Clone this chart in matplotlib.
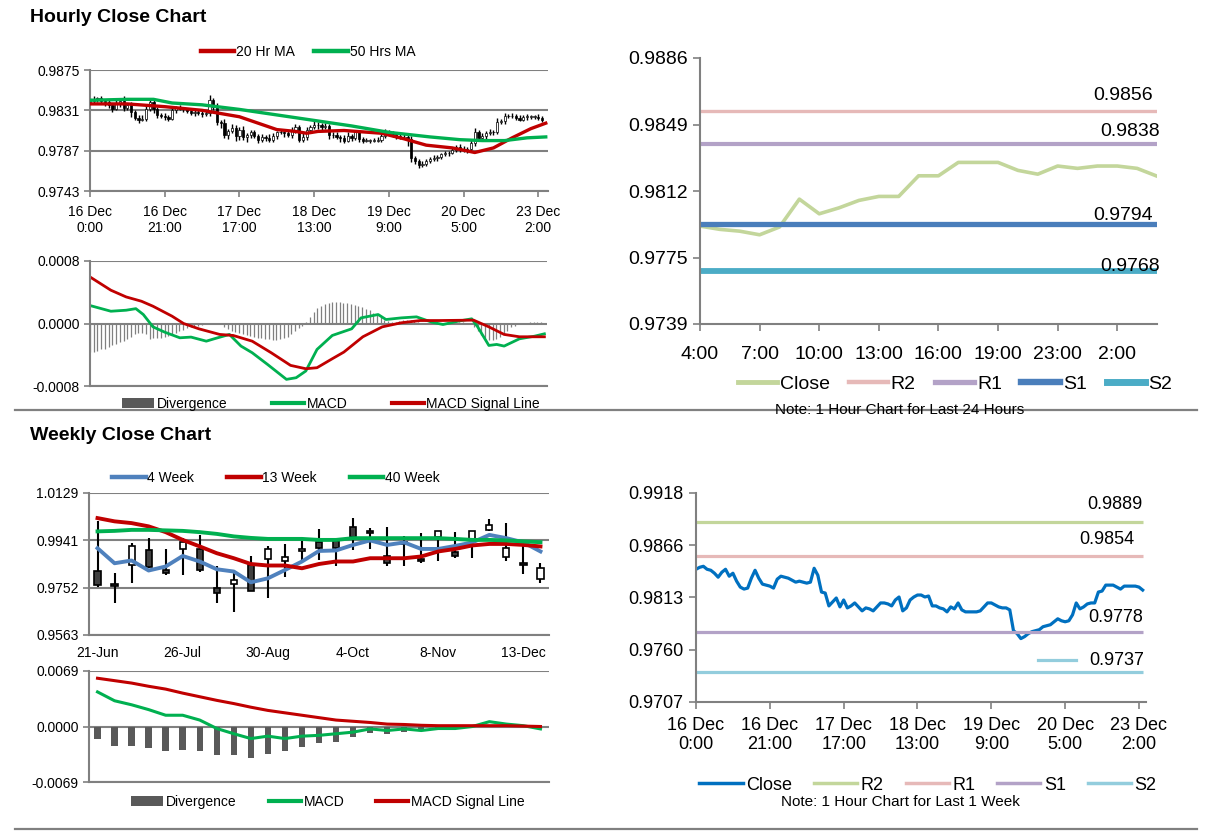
import numpy as np
import matplotlib
matplotlib.use("Agg")
import matplotlib.pyplot as plt
from matplotlib import font_manager
from matplotlib.lines import Line2D
from matplotlib.patches import Patch


# FONTS
installed = {f.name for f in font_manager.fontManager.ttflist}
BASE = "Liberation Sans" if "Liberation Sans" in installed else "DejaVu Sans"
NARROW = "Liberation Sans Narrow" if "Liberation Sans Narrow" in installed else BASE
plt.rcParams["font.family"] = [BASE, "DejaVu Sans"]
# the narrow face is smaller per point, so only bump the size when it exists
C_SIZE = 15.5 if NARROW != BASE else 14

GREY = "#808080"
RED = "#c00000"
GREEN = "#00b050"


# HOURLY DATA (last 1 week, one value per hour)
hourly_close = [
    0.9841, 0.9843, 0.9844, 0.9841, 0.9840, 0.9837, 0.9833, 0.9838, 0.9841, 0.9834,
    0.9837, 0.9829, 0.9823, 0.9821, 0.9822, 0.9832, 0.9840, 0.9832, 0.9826, 0.9825,
    0.9824, 0.9822, 0.9831, 0.9834, 0.9833, 0.9832, 0.9830, 0.9828, 0.9829, 0.9828,
    0.9827, 0.9828, 0.9842, 0.9835, 0.9818, 0.9817, 0.9804, 0.9808, 0.9812, 0.9803,
    0.9810, 0.9802, 0.9804, 0.9807, 0.9803, 0.9799, 0.9802, 0.9801, 0.9799, 0.9803,
    0.9807, 0.9807, 0.9806, 0.9804, 0.9810, 0.9813, 0.9799, 0.9802, 0.9810, 0.9813,
    0.9815, 0.9815, 0.9813, 0.9814, 0.9804, 0.9804, 0.9802, 0.9801, 0.9798, 0.9803,
    0.9801, 0.9807, 0.9800, 0.9798, 0.9798, 0.9798, 0.9798, 0.9799, 0.9803, 0.9807,
    0.9807, 0.9805, 0.9803, 0.9802, 0.9802, 0.9800, 0.9779, 0.9776, 0.9771, 0.9773,
    0.9776, 0.9778, 0.9779, 0.9780, 0.9783, 0.9784, 0.9785, 0.9788, 0.9791, 0.9789,
    0.9788, 0.9789, 0.9795, 0.9807, 0.9801, 0.9803, 0.9806, 0.9807, 0.9807, 0.9818,
    0.9819, 0.9825, 0.9825, 0.9825, 0.9823, 0.9821, 0.9824, 0.9824, 0.9824, 0.9824,
    0.9823, 0.9820,
]
hourly_first_open = 0.9840

# wick lengths above / below the candle body, in pips (0.0001)
hourly_hi_wick = [
    3, 4, 2, 3, 2, 3, 2, 5, 3, 6, 2, 3, 2, 3, 4, 5, 3, 2, 3, 2,
    3, 2, 4, 2, 3, 2, 2, 3, 2, 3, 2, 3, 6, 3, 4, 2, 5, 3, 4, 3,
    3, 4, 2, 3, 3, 2, 3, 2, 4, 3, 2, 3, 2, 4, 3, 3, 2, 4, 3, 2,
    4, 3, 2, 3, 2, 3, 3, 2, 3, 4, 2, 3, 2, 2, 3, 2, 3, 3, 2, 4,
    3, 2, 2, 3, 3, 2, 3, 2, 2, 3, 2, 2, 3, 2, 2, 3, 2, 3, 2, 3,
    3, 2, 4, 5, 3, 3, 2, 4, 3, 5, 3, 3, 2, 3, 2, 3, 2, 3, 2, 2,
    3, 2,
]
hourly_lo_wick = [
    2, 3, 3, 2, 4, 3, 4, 2, 3, 4, 3, 5, 3, 4, 2, 3, 2, 4, 3, 2,
    4, 3, 2, 3, 2, 3, 2, 2, 3, 2, 3, 2, 3, 4, 3, 5, 3, 4, 2, 5,
    4, 3, 5, 3, 2, 4, 3, 3, 2, 3, 3, 2, 4, 2, 3, 4, 3, 2, 3, 3,
    2, 4, 3, 2, 4, 3, 2, 4, 3, 2, 3, 2, 4, 3, 2, 3, 2, 2, 3, 2,
    2, 3, 3, 2, 2, 8, 4, 3, 3, 2, 3, 2, 2, 3, 2, 2, 3, 2, 2, 3,
    2, 3, 2, 3, 3, 2, 3, 2, 3, 2, 2, 3, 2, 2, 3, 2, 2, 3, 2, 2,
    3, 2,
]

hourly_tick_pos = [0, 20, 40, 60, 80, 100, 120]
hourly_tick_labels = ["16 Dec\n0:00", "16 Dec\n21:00", "17 Dec\n17:00", "18 Dec\n13:00",
                      "19 Dec\n9:00", "20 Dec\n5:00", "23 Dec\n2:00"]

# moving averages (hour index, value)
ma20_x = [0, 10, 20, 30, 40, 45, 50, 55, 58, 61, 68, 78, 84, 90, 97, 103, 108, 113, 118, 122]
ma20_y = [0.9838, 0.9838, 0.9835, 0.9831, 0.9824, 0.9817, 0.9810, 0.9808, 0.9806, 0.9808,
          0.9809, 0.9806, 0.9800, 0.9793, 0.9790, 0.9785, 0.9790, 0.9801, 0.9811, 0.9817]
ma50_x = [0, 10, 17, 22, 30, 40, 50, 60, 70, 80, 91, 99, 105, 111, 117, 122]
ma50_y = [0.9842, 0.9843, 0.9843, 0.9839, 0.9837, 0.9832, 0.9826, 0.9820, 0.9814, 0.9807,
          0.9802, 0.9799, 0.9798, 0.9798, 0.9801, 0.9802]

# hourly MACD, values in units of 0.0001
macd_x = [0, 5.6, 9.7, 12.3, 14.3, 16.9, 20, 24.1, 27.1, 31.2, 33.3, 37.4, 40.5, 43.5, 47.6,
          52.7, 55.3, 57.9, 60.9, 65, 70.2, 72.7, 77.3, 79.4, 83.5, 87.6, 91.7, 94.7, 98.8,
          102.4, 104, 107, 109.1, 111.1, 115.2, 119.3, 121.9]
macd_y = [2.30, 1.57, 1.70, 1.90, 1.15, -0.43, -1.10, -1.83, -1.74, -2.26, -1.96, -1.40, -2.89,
          -3.74, -5.23, -7.15, -6.94, -6.08, -3.32, -1.53, -0.68, 0.72, 1.15, 0.51, 0.72, 0.85,
          0.17, -0.13, 0.30, 0.60, -0.43, -2.81, -2.68, -2.89, -1.96, -1.62, -1.32]
signal_x = [0, 5.6, 9.7, 13.8, 16.9, 22, 25.1, 29.2, 34.8, 38.4, 43.5, 48.6, 53.8, 57.9, 60.9,
            65, 68.1, 73.2, 78.4, 83.5, 88.6, 93.7, 102.9, 107, 111.1, 115.2, 121.9]
signal_y = [5.96, 4.26, 3.40, 2.85, 2.21, 0.94, 0.0, -0.68, -1.40, -1.53, -2.26, -3.74, -5.36,
            -5.79, -5.66, -4.51, -3.66, -1.70, -0.43, 0.09, 0.38, 0.38, 0.43, -0.43, -1.40,
            -1.70, -1.70]
# divergence per hour, units of 0.00001
divergence = [
    -37, -36, -35, -33, -32, -30, -28, -26, -24, -22, -20, -17, -14, -12, -12, -14, -20, -19,
    -19, -18, -17, -16, -14, -12, -10, -8, -6, -5, -4, -3, -2, -1, 0, 1, 1, -1, -4, -7, -9,
    -11, -12, -14, -15, -16, -17, -18, -19, -20, -20, -21, -21, -20, -19, -17, -14, -10, -6,
    -3, 2, 8, 15, 20, 23, 25, 26, 27, 27, 27, 26, 26, 25, 24, 23, 21, 19, 17, 14, 11, 8, 5,
    3, 2, 2, 3, 4, 4, 4, 3, 2, 1, 0, -1, 0, 0, 1, 1, 2, 2, 3, 2, 2, 1, -1, -5, -10, -15, -19,
    -21, -21, -20, -17, -13, -9, -5, -3, -1, 1, 1, 2, 2, 2, 2,
]


# LAST 24 HOURS
last24_labels = ["4:00", "5:00", "6:00", "7:00", "8:00", "9:00", "10:00", "11:00", "12:00",
                 "13:00", "14:00", "15:00", "16:00", "17:00", "18:00", "19:00", "20:00",
                 "21:00", "23:00", "0:00", "1:00", "2:00", "3:00", "4:00"]
last24_close = [0.97926, 0.97908, 0.97898, 0.97878, 0.97921, 0.98075, 0.97994, 0.98027,
                0.98068, 0.98090, 0.98090, 0.98204, 0.98204, 0.98278, 0.98278, 0.98278,
                0.98234, 0.98213, 0.98258, 0.98245, 0.98258, 0.98258, 0.98245, 0.98202]
day_levels = {"R2": 0.9856, "R1": 0.9838, "S1": 0.9794, "S2": 0.9768}
week_levels = {"R2": 0.9889, "R1": 0.9854, "S1": 0.9778, "S2": 0.9737}


# WEEKLY DATA
week_labels = ["21-Jun", "26-Jul", "30-Aug", "4-Oct", "8-Nov", "13-Dec"]
wk_open = [0.9820, 0.9766, 0.9842, 0.9900, 0.9822, 0.9905, 0.9905, 0.9749, 0.9765, 0.9842,
           0.9865, 0.9856, 0.9896, 0.9932, 0.9936, 0.9992, 0.9978, 0.9878, 0.9932, 0.9865,
           0.9953, 0.9892, 0.9945, 0.9982, 0.9872, 0.9849, 0.9785]
wk_high = [1.0016, 0.9809, 0.9929, 0.9949, 0.9905, 0.9949, 0.9962, 0.9839, 0.9809, 0.9878,
           0.9918, 0.9926, 0.9936, 0.9985, 0.9949, 1.0029, 0.9989, 0.9992, 0.9956, 0.9969,
           0.9976, 0.9972, 0.9976, 1.0025, 1.0009, 0.9916, 0.9849]
wk_low = [0.9756, 0.9692, 0.9769, 0.9829, 0.9802, 0.9802, 0.9816, 0.9692, 0.9656, 0.9738,
          0.9709, 0.9796, 0.9856, 0.9860, 0.9840, 0.9902, 0.9905, 0.9840, 0.9840, 0.9849,
          0.9856, 0.9869, 0.9869, 0.9976, 0.9856, 0.9806, 0.9769]
wk_close = [0.9762, 0.9760, 0.9916, 0.9836, 0.9809, 0.9932, 0.9822, 0.9729, 0.9782, 0.9738,
            0.9905, 0.9873, 0.9905, 0.9909, 0.9909, 0.9953, 0.9969, 0.9849, 0.9926, 0.9856,
            0.9976, 0.9876, 0.9976, 1.0002, 0.9909, 0.9842, 0.9829]
wk_ma4 = [0.9909, 0.9849, 0.9860, 0.9820, 0.9836, 0.9878, 0.9856, 0.9825, 0.9816, 0.9773,
          0.9789, 0.9822, 0.9856, 0.9898, 0.9900, 0.9922, 0.9940, 0.9922, 0.9932, 0.9906,
          0.9906, 0.9918, 0.9932, 0.9962, 0.9949, 0.9932, 0.9896]
wk_ma13 = [1.0029, 1.0016, 1.0009, 0.9996, 0.9973, 0.9942, 0.9916, 0.9889, 0.9869, 0.9846,
           0.9840, 0.9840, 0.9829, 0.9846, 0.9856, 0.9856, 0.9869, 0.9869, 0.9869, 0.9876,
           0.9896, 0.9906, 0.9920, 0.9926, 0.9926, 0.9922, 0.9916]
wk_ma40 = [0.9976, 0.9978, 0.9982, 0.9982, 0.9980, 0.9978, 0.9973, 0.9966, 0.9956, 0.9950,
           0.9946, 0.9946, 0.9946, 0.9942, 0.9942, 0.9949, 0.9949, 0.9949, 0.9949, 0.9949,
           0.9949, 0.9946, 0.9942, 0.9942, 0.9940, 0.9936, 0.9933]
wk_div = [-0.00155, -0.00245, -0.00245, -0.0027, -0.0031, -0.0029, -0.0031, -0.0035, -0.0036,
          -0.0039, -0.0034, -0.0031, -0.0026, -0.0021, -0.0019, -0.0013, -0.0008, -0.0009,
          -0.00065, -0.00045, -0.00025, -0.00016, -0.0001, 0.0001, 0.00005, -0.00005, -0.0001]
wk_macd = [0.0043, 0.0032, 0.0027, 0.0021, 0.0014, 0.0014, 0.0008, -0.00025, -0.0009, -0.0015,
           -0.0012, -0.0015, -0.0012, -0.0011, -0.0009, -0.0007, -0.0003, -0.0005, -0.0003,
           -0.0005, -0.00025, -0.00025, 0.0, 0.0006, 0.0003, 0.0001, -0.0003]
wk_signal = [0.0060, 0.0057, 0.0054, 0.0050, 0.00465, 0.00415, 0.0037, 0.00325, 0.00285,
             0.0024, 0.0020, 0.0017, 0.0014, 0.0011, 0.0008, 0.00065, 0.0005, 0.0003,
             0.00025, 0.00015, 0.0001, 0.0001, 0.0001, 0.0001, 0.0001, 0.00005, 0.0]


# FIGURE
W, H = 1212, 834
fig = plt.figure(figsize=(W / 100, H / 100), dpi=100)


def box(left, top, right, bottom):
    return [left / W, 1 - bottom / H, (right - left) / W, (bottom - top) / H]


def base_style(ax):
    ax.spines["top"].set_visible(False)
    ax.spines["right"].set_visible(False)
    for side in ("left", "bottom"):
        ax.spines[side].set_color(GREY)
        ax.spines[side].set_linewidth(1.5)
    ax.tick_params(color=GREY, width=1.2, length=4, direction="out", labelcolor="black")


def fig_legend(handles, labels, x, y, size, family=None, **kw):
    prop = {"size": size}
    if family:
        prop["family"] = family
    fig.legend(handles, labels, loc="center", bbox_to_anchor=(x / W, 1 - y / H),
               ncol=len(labels), frameon=False, prop=prop, borderaxespad=0, **kw)


fig.text(30 / W, 1 - 18 / H, "Hourly Close Chart", fontsize=14, fontweight="bold", va="center")
fig.text(30 / W, 1 - 436 / H, "Weekly Close Chart", fontsize=14, fontweight="bold", va="center")
for ypx in (410, 829):
    fig.add_artist(Line2D([15 / W, 1197 / W], [1 - ypx / H, 1 - ypx / H],
                          transform=fig.transFigure, color=GREY, lw=1.6))


# PANEL A: HOURLY CANDLES
axA = fig.add_axes(box(90, 70, 548, 191))
base_style(axA)
close = np.array(hourly_close)
opens = np.concatenate([[hourly_first_open], close[:-1]])
hi = np.maximum(opens, close) + np.array(hourly_hi_wick) * 1e-4
lo = np.minimum(opens, close) - np.array(hourly_lo_wick) * 1e-4
idx = np.arange(len(close))
axA.vlines(idx, lo, hi, color="black", lw=1.0, zorder=2)
body_bot = np.minimum(opens, close)
body_h = np.maximum(np.abs(close - opens), 0.00003)
up = close >= opens
axA.bar(idx[up], body_h[up], bottom=body_bot[up], width=0.6, color="white",
        edgecolor="black", lw=0.5, zorder=3)
axA.bar(idx[~up], body_h[~up], bottom=body_bot[~up], width=0.6, color="black",
        edgecolor="black", lw=0.5, zorder=3)
axA.plot(ma20_x, ma20_y, color=RED, lw=2.4, zorder=4)
axA.plot(ma50_x, ma50_y, color=GREEN, lw=2.4, zorder=5)
axA.set_xlim(0, 122.6)
axA.set_ylim(0.9743, 0.9875)
a_ticks = [0.9743, 0.9787, 0.9831, 0.9875]
axA.set_yticks(a_ticks)
axA.set_yticklabels([f"{v:.4f}" for v in a_ticks], fontsize=10)
axA.yaxis.grid(True, color=GREY, lw=1.5)
axA.set_axisbelow(True)
axA.set_xticks(hourly_tick_pos)
axA.set_xticklabels(hourly_tick_labels, fontsize=10, linespacing=1.15)
axA.tick_params(axis="x", pad=6)
fig_legend([Line2D([], [], color=RED, lw=3.2), Line2D([], [], color=GREEN, lw=3.2)],
           ["20 Hr MA", "50 Hrs MA"], 308, 52, 10,
           handlelength=2.4, handletextpad=0.15, columnspacing=1.4)


# PANEL B: HOURLY MACD
axB = fig.add_axes(box(90, 261, 547, 386))
base_style(axB)
axB.vlines(idx, 0, np.array(divergence) * 1e-5, color="#808080", lw=0.9)
axB.plot(macd_x, np.array(macd_y) * 1e-4, color=GREEN, lw=2.0)
axB.plot(signal_x, np.array(signal_y) * 1e-4, color=RED, lw=2.0)
axB.set_xlim(0, 122.6)
axB.set_ylim(-0.0008, 0.0008)
b_ticks = [-0.0008, 0.0, 0.0008]
axB.set_yticks(b_ticks)
axB.set_yticklabels(["-0.0008", "0.0000", "0.0008"], fontsize=10)
axB.yaxis.grid(True, color=GREY, lw=1.5)
axB.set_axisbelow(True)
axB.set_xticks([])
fig_legend([Patch(facecolor="#595959"), Line2D([], [], color=GREEN, lw=3),
            Line2D([], [], color=RED, lw=3)],
           ["Divergence", "MACD", "MACD Signal Line"], 331, 404, 10,
           handlelength=2.3, handletextpad=0.2, columnspacing=3.2)


# PANEL C: LAST 24 HOURS WITH PIVOTS
axC = fig.add_axes(box(700, 58, 1157, 324))
base_style(axC)
n24 = len(last24_close)
axC.plot(range(n24), last24_close, color="#c3d69b", lw=2.6)
c_colors = {"R2": "#e6b9b8", "R1": "#b3a2c7", "S1": "#4a7ebb", "S2": "#4bacc6"}
c_widths = {"R2": 2.4, "R1": 3.0, "S1": 3.8, "S2": 4.2}
c_offsets = {"R2": (-3, 5), "R1": (2, 3), "S1": (-3, 0), "S2": (2, -3)}
for name, lvl in day_levels.items():
    axC.hlines(lvl, 0, n24 - 1, color=c_colors[name], lw=c_widths[name])
    axC.annotate(f"{lvl:.4f}", (n24 - 1, lvl), xytext=c_offsets[name],
                 textcoords="offset points", ha="right", va="bottom",
                 fontsize=C_SIZE, family=NARROW)
axC.set_xlim(0, n24 - 1)
axC.set_ylim(0.97385, 0.98855)
c_labels = ["0.9739", "0.9775", "0.9812", "0.9849", "0.9886"]
axC.set_yticks(np.linspace(0.97385, 0.98855, len(c_labels)))
axC.set_yticklabels(c_labels, fontsize=C_SIZE, family=NARROW)
axC.set_xticks(range(0, n24 - 1, 3))
axC.set_xticklabels(last24_labels[0:n24 - 1:3], fontsize=C_SIZE, family=NARROW)
axC.tick_params(length=5, pad=4)
axC.tick_params(axis="x", pad=11)
fig_legend([Line2D([], [], color="#c3d69b", lw=3.5)] +
           [Line2D([], [], color=c_colors[k], lw=c_widths[k] + 0.8) for k in day_levels],
           ["Close"] + list(day_levels), 955, 384, C_SIZE, family=NARROW,
           handlelength=2.0, handletextpad=0.15, columnspacing=1.0)
fig.text(900 / W, 1 - 410 / H, "Note: 1 Hour Chart for Last 24 Hours", fontsize=11,
         family=NARROW, ha="center", va="center")


# PANEL D: WEEKLY CANDLES
axD = fig.add_axes(box(89, 493, 549, 635))
base_style(axD)
wk = np.arange(len(wk_close))
wo, wc = np.array(wk_open), np.array(wk_close)
axD.vlines(wk, wk_low, wk_high, color="black", lw=1.5, zorder=2)
wb = np.minimum(wo, wc)
wh = np.maximum(np.abs(wc - wo), 0.0003)
wup = wc >= wo
axD.bar(wk[wup], wh[wup], bottom=wb[wup], width=0.36, color="white", edgecolor="black",
        lw=1.2, zorder=3)
axD.bar(wk[~wup], wh[~wup], bottom=wb[~wup], width=0.36, color="#404040", edgecolor="black",
        lw=1.2, zorder=3)
axD.plot(wk, wk_ma4, color="#4f81bd", lw=2.8, zorder=4)
axD.plot(wk, wk_ma13, color=RED, lw=2.8, zorder=5)
axD.plot(wk, wk_ma40, color=GREEN, lw=2.8, zorder=6)
axD.set_xlim(-0.5, len(wk) - 0.5)
axD.set_ylim(0.9563, 1.0129)
d_labels = ["0.9563", "0.9752", "0.9941", "1.0129"]
axD.set_yticks(np.linspace(0.9563, 1.0129, len(d_labels)))
axD.set_yticklabels(d_labels, fontsize=10)
axD.yaxis.grid(True, color=GREY, lw=1.5)
axD.set_axisbelow(True)
axD.set_xticks(wk[::5])
axD.set_xticklabels(week_labels, fontsize=10)
axD.tick_params(axis="x", length=0, pad=8)
fig_legend([Line2D([], [], color="#4f81bd", lw=3.2), Line2D([], [], color=RED, lw=3.2),
            Line2D([], [], color=GREEN, lw=3.2)],
           ["4 Week", "13 Week", "40 Week"], 276, 478, 10,
           handlelength=2.4, handletextpad=0.1, columnspacing=2.4)


# PANEL E: WEEKLY MACD
axE = fig.add_axes(box(89, 671, 549, 782))
base_style(axE)
axE.bar(wk, wk_div, width=0.38, color="#595959")
axE.plot(wk, wk_macd, color=GREEN, lw=2.2)
axE.plot(wk, wk_signal, color=RED, lw=2.2)
axE.set_xlim(-0.5, len(wk) - 0.5)
axE.set_ylim(-0.0069, 0.0069)
axE.set_yticks([-0.0069, 0.0, 0.0069])
axE.set_yticklabels(["-0.0069", "0.0000", "0.0069"], fontsize=10)
axE.yaxis.grid(True, color=GREY, lw=1.5)
axE.set_axisbelow(True)
axE.set_xticks([])
fig_legend([Patch(facecolor="#595959"), Line2D([], [], color=GREEN, lw=3),
            Line2D([], [], color=RED, lw=3)],
           ["Divergence", "MACD", "MACD Signal Line"], 328, 802, 10,
           handlelength=2.3, handletextpad=0.2, columnspacing=2.3)


# PANEL F: LAST WEEK HOURLY CLOSE WITH PIVOTS
axF = fig.add_axes(box(696, 493, 1146, 702))
base_style(axF)
axF.plot(idx, close, color="#0070c0", lw=2.3)
f_colors = {"R2": "#c3d69b", "R1": "#e6b9b8", "S1": "#b3a2c7", "S2": "#93cddd"}
f_offsets = {"R2": (0, 6), "R1": (-6, 6), "S1": (0, 4), "S2": None}
for name, lvl in week_levels.items():
    axF.hlines(lvl, 0, len(close) - 1, color=f_colors[name], lw=2.3)
    if f_offsets[name] is not None:
        axF.annotate(f"{lvl:.4f}", (len(close) - 1, lvl), xytext=f_offsets[name],
                     textcoords="offset points", ha="right", va="bottom", fontsize=13)
# S2 label sits in a little callout with its own leader line
axF.plot([0.76, 0.845], [0.20, 0.20], transform=axF.transAxes, color="#93cddd", lw=2.3)
axF.text(0.995, 0.20, f"{week_levels['S2']:.4f}", transform=axF.transAxes,
         ha="right", va="center", fontsize=13)
axF.set_xlim(0, 121.9)
axF.set_ylim(0.9707, 0.9918)
f_labels = ["0.9707", "0.9760", "0.9813", "0.9866", "0.9918"]
axF.set_yticks(np.linspace(0.9707, 0.9918, len(f_labels)))
axF.set_yticklabels(f_labels, fontsize=13)
axF.set_xticks(hourly_tick_pos)
axF.set_xticklabels(hourly_tick_labels, fontsize=13, linespacing=1.1)
axF.tick_params(length=5, pad=4)
axF.tick_params(axis="x", pad=6)
fig_legend([Line2D([], [], color="#0070c0", lw=2.5)] +
           [Line2D([], [], color=f_colors[k], lw=2.5) for k in week_levels],
           ["Close"] + list(week_levels), 928, 785, 13,
           handlelength=2.4, handletextpad=0.2, columnspacing=1.2)
fig.text(900 / W, 1 - 802 / H, "Note: 1 Hour Chart for Last 1 Week", fontsize=11,
         ha="center", va="center")


fig.savefig("out.png", dpi=100)
